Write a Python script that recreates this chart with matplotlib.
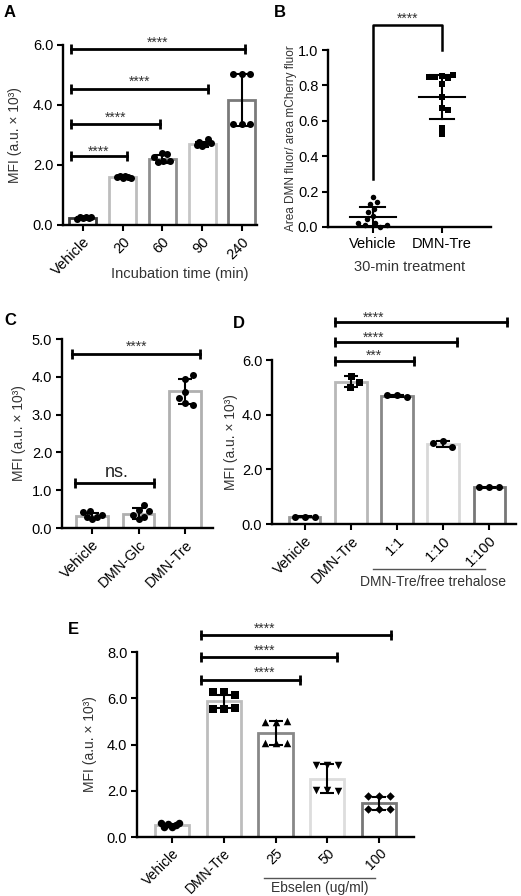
import matplotlib
matplotlib.use('Agg')
import matplotlib.pyplot as plt
import matplotlib.transforms as mtrans
import numpy as np

plt.rcParams['font.family'] = ['Liberation Sans', 'DejaVu Sans']

# ---------------- data ----------------
cats_A = ['Vehicle', '20', '60', '90', '240']
mean_A = [0.24, 1.60, 2.21, 2.69, 4.16]
sd_A = [0.03, 0.03, 0.13, 0.08, 0.86]
pts_A = [[0.22, 0.25, 0.27, 0.24, 0.21, 0.26],
         [1.58, 1.62, 1.63, 1.60, 1.61, 1.57],
         [2.40, 2.38, 2.12, 2.10, 2.13, 2.25],
         [2.62, 2.70, 2.78, 2.85, 2.65, 2.72],
         [5.02, 5.02, 5.02, 3.35, 3.35, 3.35]]
edge_A = ['#3a3a3a', '#bdbdbd', '#8f8f8f', '#c6c6c6', '#7a7a7a']
brk_A = [(-0.3, 1.10, 2.31, 2.59), (-0.3, 1.95, 3.37, 3.72),
         (-0.3, 3.15, 4.52, 4.92), (-0.3, 4.07, 5.86, 6.22)]

cats_B = ['Vehicle', 'DMN-Tre']
veh_B = [0.17, 0.14, 0.13, 0.10, 0.085, 0.06, 0.044, 0.025, 0.01, 0.0, 0.01, 0.02]
tre_B = [0.855, 0.84, 0.845, 0.86, 0.81, 0.736, 0.67, 0.66, 0.56, 0.523, 0.85]
mean_B = [0.059, 0.736]
sd_B = [0.054, 0.125]

cats_C = ['Vehicle', 'DMN-Glc', 'DMN-Tre']
mean_C = [0.32, 0.38, 3.62]
sd_C = [0.08, 0.14, 0.33]
pts_C = [[0.25, 0.30, 0.28, 0.35, 0.42, 0.45],
         [0.25, 0.30, 0.35, 0.48, 0.60, 0.45],
         [3.30, 3.25, 3.45, 3.60, 3.95, 4.05]]
edge_C = ['#b0b0b0', '#b0b0b0', '#b0b0b0']

cats_D = ['Vehicle', 'DMN-Tre', '1:1', '1:10', '1:100']
mean_D = [0.27, 5.20, 4.69, 2.94, 1.34]
sd_D = [0.01, 0.20, 0.03, 0.11, 0.01]
pts_D = [[0.27, 0.27, 0.27], [5.43, 5.21, 5.02], [4.72, 4.65, 4.72],
         [3.03, 2.83, 2.97], [1.34, 1.34, 1.34]]
mk_D = ['o', 's', 'o', 'o', 'o']
edge_D = ['#9a9a9a', '#b8b8b8', '#888888', '#d8d8d8', '#777777']
brk_D = [(0.66, 2.37, 5.97, 6.30, '***'), (0.66, 3.30, 6.65, 6.97, '****'),
         (0.66, 4.38, 7.38, 7.70, '****')]

cats_E = ['Vehicle', 'DMN-Tre', '25', '50', '100']
mean_E = [0.50, 5.86, 4.50, 2.52, 1.45]
sd_E = [0.06, 0.27, 0.50, 0.63, 0.30]
pts_E = [[0.45, 0.50, 0.55, 0.60, 0.42, 0.62],
         [6.27, 6.13, 6.27, 5.55, 5.60, 5.55],
         [4.98, 5.02, 4.98, 4.05, 4.05, 4.05],
         [3.13, 3.13, 3.13, 2.05, 2.00, 2.05],
         [1.79, 1.79, 1.79, 1.21, 1.21, 1.21]]
mk_E = ['o', 's', '^', 'v', 'D']
edge_E = ['#bdbdbd', '#bdbdbd', '#888888', '#dddddd', '#777777']
brk_E = [(0.56, 2.48, 6.81, 7.29), (0.56, 3.19, 7.77, 8.25), (0.56, 4.22, 8.73, 9.20)]

YLAB = 'MFI (a.u. × 10³)'

# ---------------- helpers ----------------
W, H = 521, 896
fig = plt.figure(figsize=(W / 100, H / 100), dpi=100)


def add_ax(l, t, r, b):
    return fig.add_axes([l / W, 1 - b / H, (r - l) / W, (b - t) / H])


def style(ax, yticks, fmt='{:.1f}'):
    for s in ['top', 'right']:
        ax.spines[s].set_visible(False)
    for s in ['left', 'bottom']:
        ax.spines[s].set_linewidth(1.7)
    ax.tick_params(width=1.5, length=4.5, labelsize=10.5, pad=2.5, direction='out')
    ax.set_yticks(yticks)
    ax.set_yticklabels([fmt.format(v) for v in yticks])


def swarm_x(ax, xc, ys, dist, maxhalf=None):
    tr = ax.transData
    x0 = tr.transform((xc, 0))[0]
    placed, offs = [], []
    for y in ys:
        ypx = tr.transform((xc, y))[1]
        best = None
        k = 0
        while best is None:
            cands = [0.0] if k == 0 else [k * 0.5, -k * 0.5]
            for s in cands:
                if all((x0 + s - px) ** 2 + (ypx - py) ** 2 >= dist ** 2 for px, py in placed):
                    best = s
                    break
            k += 1
        placed.append((x0 + best, ypx))
        offs.append(best)
    offs = np.array(offs)
    if maxhalf is not None and np.abs(offs).max() > maxhalf:
        offs = offs * maxhalf / np.abs(offs).max()
    inv = tr.inverted()
    return [inv.transform((x0 + o, 0))[0] for o in offs]


def bars_panel(ax, cats, means, sds, pts, edges, markers, mpx, dist, maxhalf, width=0.68):
    x = np.arange(len(cats))
    ax.bar(x, means, width=width, color='white', edgecolor=edges, linewidth=2.0, zorder=2)
    ax.errorbar(x, means, yerr=sds, fmt='none', ecolor='black', elinewidth=1.5,
                capsize=5, capthick=1.5, zorder=3)
    for i, (ys, m) in enumerate(zip(pts, markers)):
        xs = swarm_x(ax, i, ys, dist, maxhalf)
        sz = mpx * 0.72
        if m == 'D':
            sz *= 0.8
        ax.scatter(xs, ys, marker=m, s=sz ** 2, color='black', zorder=4, linewidths=0,
                   clip_on=False)
    ax.set_xticks(x)
    ax.set_xticklabels(cats, rotation=45, ha='right', va='top', rotation_mode='anchor')


def bracket(ax, x0, x1, y, ys, label, xs=None, fs=10):
    ax.plot([x0, x1], [y, y], color='black', lw=2, marker='|', markersize=7,
            mew=2, clip_on=False, zorder=5)
    if xs is None:
        xs = (x0 + x1) / 2
    ax.annotate(label, (xs, ys), xytext=(0, -6), textcoords='offset points',
                ha='center', va='baseline', fontsize=fs, color='#333333',
                annotation_clip=False)


def panel_letter(x, y, s):
    fig.text(x / W, 1 - y / H, s, fontsize=12, fontweight='bold', va='top', ha='left')


LABC = '#333333'

# ---------------- Panel A ----------------
axA = add_ax(63, 45, 257, 225)
axA.set_xlim(-0.5, 4.38)
axA.set_ylim(0, 6)
style(axA, [0, 2, 4, 6])
bars_panel(axA, cats_A, mean_A, sd_A, pts_A, edge_A, ['o'] * 5, 7, 8.5, 8.5)
for x0, x1, y, ys in brk_A:
    bracket(axA, x0, x1, y, ys, '****')
axA.set_xlabel('Incubation time (min)', fontsize=10.5, color=LABC)
axA.xaxis.set_label_coords(0.60, -0.235)
axA.set_ylabel(YLAB, fontsize=10, color=LABC)
axA.yaxis.set_label_coords(-0.21, 0.5)

# ---------------- Panel B ----------------
axB = add_ax(328, 50, 491, 227)
axB.set_xlim(-0.65, 1.71)
axB.set_ylim(0, 1.0)
style(axB, [0, 0.2, 0.4, 0.6, 0.8, 1.0])
for i, (ys, m) in enumerate(zip([veh_B, tre_B], ['o', 's'])):
    xs = swarm_x(axB, i, ys, 6.5)
    axB.scatter(xs, ys, marker=m, s=(5.5 * 0.72) ** 2, color='black', zorder=4,
                linewidths=0, clip_on=False)
    axB.plot([i - 0.33, i + 0.33], [mean_B[i], mean_B[i]], color='black', lw=1.5, zorder=5)
    lo, hi = mean_B[i] - sd_B[i], mean_B[i] + sd_B[i]
    axB.plot([i, i], [lo, hi], color='black', lw=1.5, zorder=5)
    axB.plot([i - 0.18, i + 0.18], [hi, hi], color='black', lw=1.5, zorder=5)
    axB.plot([i - 0.18, i + 0.18], [lo, lo], color='black', lw=1.5, zorder=5)
axB.plot([0, 0, 1, 1], [0.27, 1.14, 1.14, 1.0], color='black', lw=1.8, clip_on=False)
axB.annotate('****', (0.5, 1.2), xytext=(0, -6), textcoords='offset points',
             ha='center', va='baseline', fontsize=10, color='#333333', annotation_clip=False)
axB.set_xticks([0, 1])
axB.set_xticklabels(cats_B)
axB.set_xlabel('30-min treatment', fontsize=10.5, color=LABC)
axB.xaxis.set_label_coords(0.5, -0.185)
axB.set_ylabel('Area DMN fluor/ area mCherry fluor', fontsize=8.5, color=LABC)
axB.yaxis.set_label_coords(-0.19, 0.5)

# ---------------- Panel C ----------------
axC = add_ax(62, 339, 213, 528)
axC.set_xlim(-0.65, 2.6)
axC.set_ylim(0, 5)
style(axC, [0, 1, 2, 3, 4, 5])
bars_panel(axC, cats_C, mean_C, sd_C, pts_C, edge_C, ['o'] * 3, 7, 8, 10)
bracket(axC, -0.43, 2.32, 4.59, 4.90, '****')
axC.plot([-0.36, 1.32], [1.18, 1.18], color='black', lw=2, marker='|', markersize=7,
         mew=2, clip_on=False, zorder=5)
axC.text(0.52, 1.36, 'ns.', ha='center', va='baseline', fontsize=13, color='#222222')
axC.set_ylabel(YLAB, fontsize=10, color=LABC)
axC.yaxis.set_label_coords(-0.24, 0.5)

# ---------------- Panel D ----------------
axD = add_ax(272, 360, 516, 524)
axD.set_xlim(-0.71, 4.58)
axD.set_ylim(0, 6)
style(axD, [0, 2, 4, 6])
bars_panel(axD, cats_D, mean_D, sd_D, pts_D, edge_D, mk_D, 7, 10, 10)
for x0, x1, y, ys, lab in brk_D:
    bracket(axD, x0, x1, y, ys, lab, xs=1.49)
trD = mtrans.blended_transform_factory(axD.transData, axD.transAxes)
axD.plot([1.49, 3.91], [-0.274, -0.274], color='#555555', lw=1, transform=trD, clip_on=False)
axD.text(2.77, -0.31, 'DMN-Tre/free trehalose', transform=trD, ha='center', va='top',
         fontsize=10, color=LABC)
axD.set_ylabel(YLAB, fontsize=10, color=LABC)
axD.yaxis.set_label_coords(-0.14, 0.5)

# ---------------- Panel E ----------------
axE = add_ax(137, 652, 414, 837)
axE.set_xlim(-0.67, 4.67)
axE.set_ylim(0, 8)
style(axE, [0, 2, 4, 6, 8])
bars_panel(axE, cats_E, mean_E, sd_E, pts_E, edge_E, mk_E, 7.5, 11, 11, width=0.66)
axE.tick_params(axis='x', labelsize=10, pad=2)
for x0, x1, y, ys in brk_E:
    bracket(axE, x0, x1, y, ys, '****', xs=1.79)
trE = mtrans.blended_transform_factory(axE.transData, axE.transAxes)
axE.plot([1.78, 3.91], [-0.222, -0.222], color='#555555', lw=1, transform=trE, clip_on=False)
axE.text(2.85, -0.236, 'Ebselen (ug/ml)', transform=trE, ha='center', va='top',
         fontsize=10, color=LABC)
axE.set_ylabel(YLAB, fontsize=10, color=LABC)
axE.yaxis.set_label_coords(-0.144, 0.5)

panel_letter(4, 5, 'A')
panel_letter(274, 5, 'B')
panel_letter(4, 313, 'C')
panel_letter(233, 316, 'D')
panel_letter(68, 622, 'E')

fig.savefig('out.png', dpi=100)
